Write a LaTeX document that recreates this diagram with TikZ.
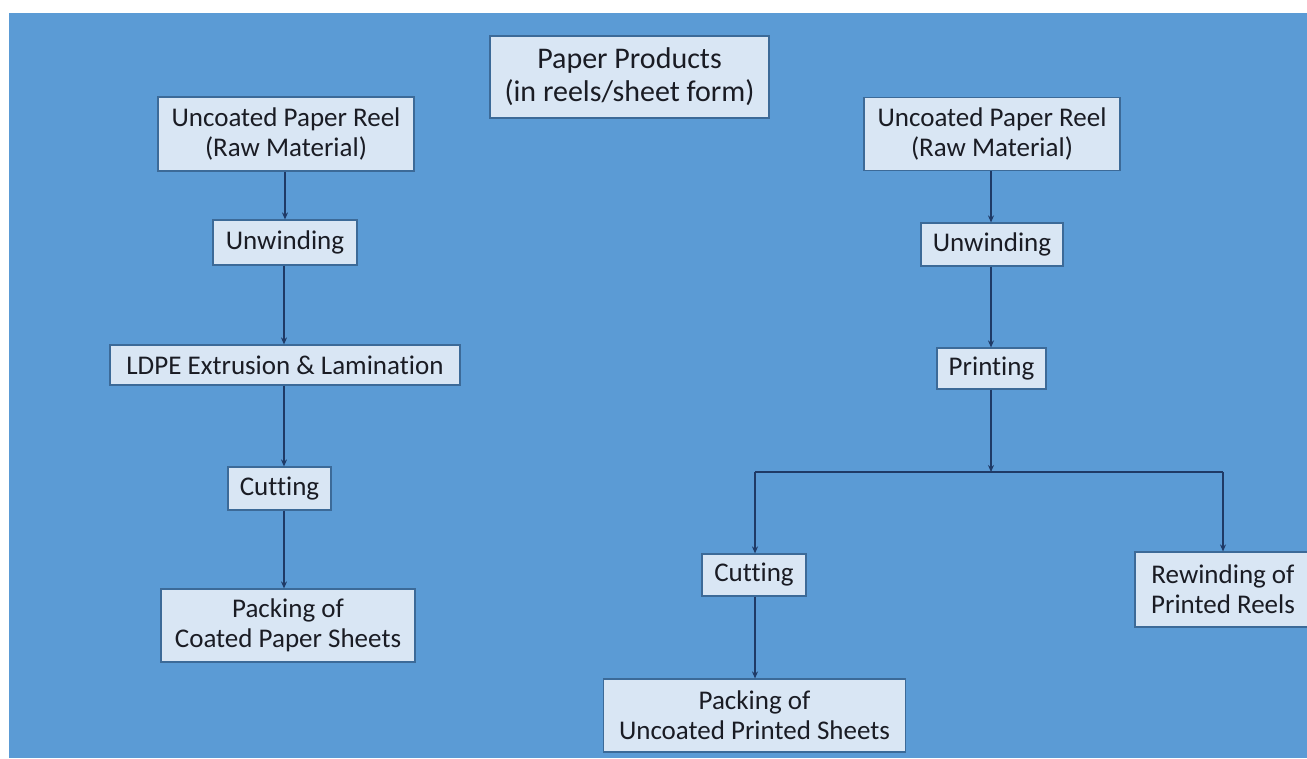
\documentclass[tikz,border=0pt]{standalone}
\usepackage{fontspec}
\setmainfont{Carlito}[Ligatures={NoCommon}]
\usetikzlibrary{arrows.meta}
\definecolor{bgblue}{HTML}{5B9BD5}
\definecolor{boxfill}{HTML}{D9E6F4}
\definecolor{boxline}{HTML}{3C6A98}
\definecolor{arrowcol}{HTML}{1F3A66}
\definecolor{txt}{HTML}{1A1C24}
\tikzset{
  procbox/.style={draw=boxline, line width=1.2pt, fill=boxfill, text=txt, align=center,
    inner sep=0pt, font=\fontsize{27}{30}\selectfont},
  titlebox/.style={procbox, font=\fontsize{30}{33}\selectfont},
  flow/.style={draw=arrowcol, line width=1.4pt, -{Stealth[length=7pt,width=6pt]}},
  plain/.style={draw=arrowcol, line width=1.4pt}
}
\begin{document}
\begin{tikzpicture}[x=1pt,y=-1pt]
\useasboundingbox (0,0) rectangle (1307,758);
\fill[white] (0,0) rectangle (1307,758);
\fill[bgblue] (9,13) rectangle (1307,758);
% top title
\node[titlebox, minimum width=279pt, minimum height=82pt] (pp) at (629.5,77) {Paper Products\\(in reels/sheet form)};
% left column
\node[procbox, minimum width=256pt, minimum height=74pt] (lu) at (286,134) {Uncoated Paper Reel\\(Raw Material)};
\node[procbox, minimum width=144pt, minimum height=45pt] (lw) at (285,242.5) {Unwinding};
\node[procbox, minimum width=350pt, minimum height=40pt] (ldpe) at (285,365) {LDPE Extrusion \& Lamination};
\node[procbox, minimum width=103pt, minimum height=43pt] (lc) at (279.5,488.5) {Cutting};
\node[procbox, minimum width=254pt, minimum height=73pt] (lp) at (288,625.5) {Packing of\\Coated Paper Sheets};
% right column
\node[procbox, minimum width=256pt, minimum height=73pt] (ru) at (992,134) {Uncoated Paper Reel\\(Raw Material)};
\node[procbox, minimum width=142pt, minimum height=43pt] (rw) at (992,244.5) {Unwinding};
\node[procbox, minimum width=109pt, minimum height=41pt] (pr) at (991.5,368.5) {Printing};
\node[procbox, minimum width=104pt, minimum height=42pt] (rc) at (754,575) {Cutting};
\node[procbox, minimum width=176pt, minimum height=75pt] (rr) at (1223,589.5) {Rewinding of\\Printed Reels};
\node[procbox, minimum width=302pt, minimum height=73pt] (rp) at (754.5,715.5) {Packing of\\Uncoated Printed Sheets};
% left connectors
\draw[flow] (lu.south -| 285,0) -- (lw.north -| 285,0);
\draw[flow] (lw.south -| 284,0) -- (ldpe.north -| 284,0);
\draw[flow] (ldpe.south -| 284,0) -- (lc.north -| 284,0);
\draw[flow] (lc.south -| 284,0) -- (lp.north -| 284,0);
% right connectors
\coordinate (j) at (991,472);
\coordinate (jl) at (755,472);
\coordinate (jr) at (1223,472);
\draw[flow] (ru.south -| 991,0) -- (rw.north -| 991,0);
\draw[flow] (rw.south -| 991,0) -- (pr.north -| 991,0);
\draw[flow] (pr.south -| 991,0) -- (j);
\draw[plain] (jl) -- (jr);
\draw[flow] (jl) -- (rc.north -| jl);
\draw[flow] (jr) -- (rr.north -| jr);
\draw[flow] (rc.south -| 755,0) -- (rp.north -| 755,0);
\end{tikzpicture}
\end{document}
